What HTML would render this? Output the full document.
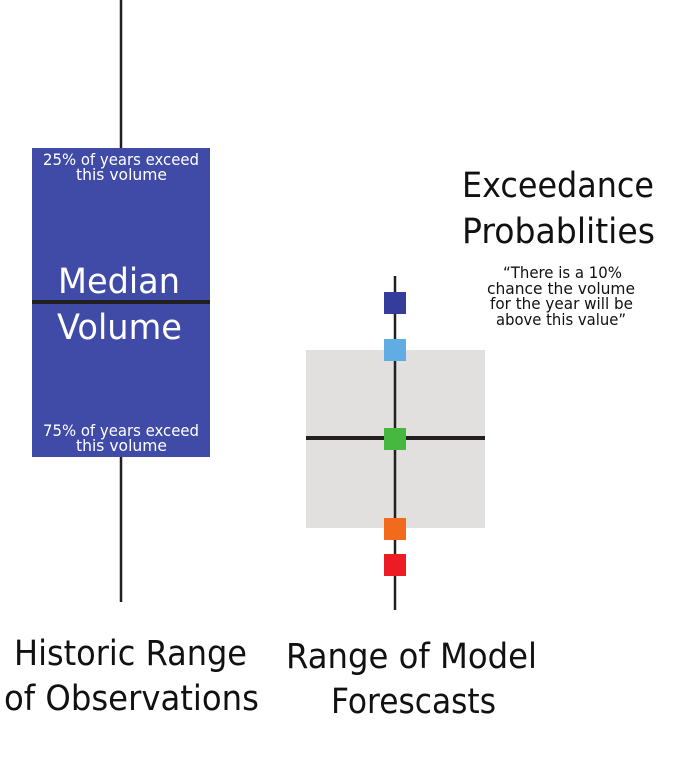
<!DOCTYPE html>
<html><head><meta charset="utf-8"><style>html,body{margin:0;padding:0;background:#fff}svg{display:block}</style></head>
<body>
<svg width="674" height="771" viewBox="0 0 674 771" xmlns="http://www.w3.org/2000/svg" font-family="'DejaVu Sans','Liberation Sans',sans-serif">
<line x1="121" y1="0" x2="121" y2="148" stroke="#231f20" stroke-width="2.5"/>
<line x1="121" y1="457" x2="121" y2="602" stroke="#231f20" stroke-width="2.5"/>
<rect x="32" y="148" width="178" height="309" fill="#3f4ba6"/>
<line x1="32" y1="302" x2="210" y2="302" stroke="#231f20" stroke-width="4"/>
<g fill="#fff">
<text x="43" y="165" font-size="16" textLength="156" lengthAdjust="spacingAndGlyphs">25% of years exceed</text>
<text x="76" y="180" font-size="16" textLength="91" lengthAdjust="spacingAndGlyphs">this volume</text>
<text x="58" y="293" font-size="35" textLength="122" lengthAdjust="spacingAndGlyphs">Median</text>
<text x="57" y="339" font-size="35" textLength="125" lengthAdjust="spacingAndGlyphs">Volume</text>
<text x="43" y="436" font-size="16" textLength="156" lengthAdjust="spacingAndGlyphs">75% of years exceed</text>
<text x="76" y="451" font-size="16" textLength="91" lengthAdjust="spacingAndGlyphs">this volume</text>
</g>
<rect x="306" y="350" width="179" height="178" fill="#e1e0df"/>
<line x1="395" y1="276" x2="395" y2="610" stroke="#231f20" stroke-width="2.5"/>
<line x1="306" y1="438" x2="485" y2="438" stroke="#231f20" stroke-width="4"/>
<rect x="384" y="292" width="22" height="22" fill="#343c9c"/>
<rect x="384" y="339" width="22" height="22" fill="#61ade3"/>
<rect x="384" y="428" width="22" height="22" fill="#46b83f"/>
<rect x="384" y="518" width="22" height="22" fill="#f26a1c"/>
<rect x="384" y="554" width="22" height="22" fill="#ed1c24"/>
<g fill="#111">
<text x="462" y="197" font-size="35" textLength="192" lengthAdjust="spacingAndGlyphs">Exceedance</text>
<text x="462" y="243" font-size="35" textLength="193" lengthAdjust="spacingAndGlyphs">Probablities</text>
<text x="503" y="278" font-size="16" textLength="119" lengthAdjust="spacingAndGlyphs">“There is a 10%</text>
<text x="487" y="294" font-size="16" textLength="148" lengthAdjust="spacingAndGlyphs">chance the volume</text>
<text x="490" y="309" font-size="16" textLength="143" lengthAdjust="spacingAndGlyphs">for the year will be</text>
<text x="496" y="325" font-size="16" textLength="130" lengthAdjust="spacingAndGlyphs">above this value”</text>
<text x="14" y="665" font-size="35" textLength="233" lengthAdjust="spacingAndGlyphs">Historic Range</text>
<text x="4" y="710" font-size="35" textLength="255" lengthAdjust="spacingAndGlyphs">of Observations</text>
<text x="286" y="668" font-size="35" textLength="251" lengthAdjust="spacingAndGlyphs">Range of Model</text>
<text x="331" y="713" font-size="35" textLength="165" lengthAdjust="spacingAndGlyphs">Forescasts</text>
</g>
</svg>
</body></html>
